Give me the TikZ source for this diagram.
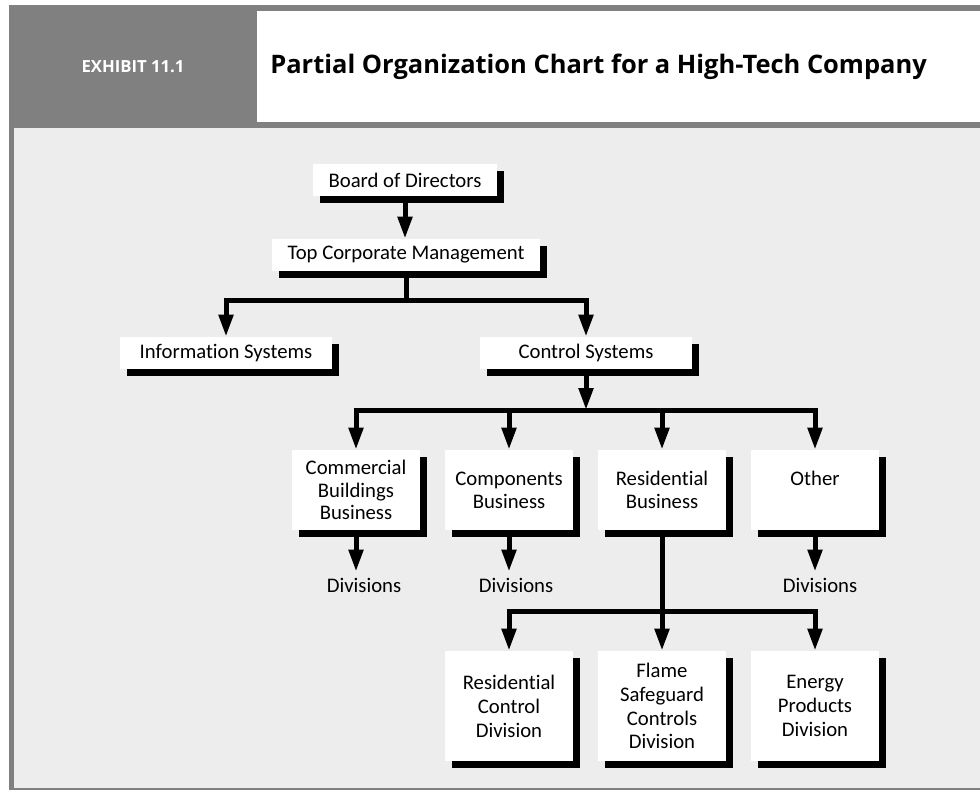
\documentclass[tikz,border=0pt]{standalone}
\usepackage{fontspec}
\setmainfont{Carlito}[Ligatures=NoCommon]
\newfontfamily\headfont{Open Sans}
\usetikzlibrary{arrows.meta,shadows,calc}
\definecolor{framegray}{RGB}{128,128,128}
\definecolor{bodygray}{RGB}{237,237,237}

\begin{document}
\begin{tikzpicture}[x=0.02cm, y=-0.02cm,
  every node/.style={font=\fontsize{11.8}{13}\selectfont},
  orgbox/.style={fill=white, inner sep=0pt, align=center,
    general shadow={fill=black, shadow xshift=0.14cm, shadow yshift=-0.14cm}},
  widebox/.style={orgbox, minimum height=0.64cm},
  bizbox/.style={orgbox, minimum width=2.56cm, minimum height=1.6cm, text width=2.56cm},
  divbox/.style={orgbox, minimum width=2.56cm, minimum height=2.2cm, text width=2.56cm,
    font=\fontsize{11.8}{13.6}\selectfont},
  link/.style={line width=0.1cm},
  arr/.style={link, -{Triangle[length=0.44cm,width=0.28cm]}}]
  \useasboundingbox (0,0) rectangle (980,790);
  % --- frame, header band and body ---
  \fill[white]     (0,0)    rectangle (980,790);
  \fill[framegray] (9,5)    rectangle (980,790);
  \fill[white]     (257,11) rectangle (980,122);
  \fill[bodygray]  (14,128) rectangle (980,788);
  \node[font=\headfont\bfseries\fontsize{9.5}{11}\selectfont, text=white] (exh) at (133,67) {EXHIBIT 11.1};
  \node[font=\headfont\bfseries\fontsize{14.5}{16}\selectfont, anchor=west, inner sep=0pt] (ttl) at (270,67)
    {Partial Organization Chart for a High-Tech Company};
  % --- top of the chart ---
  \node[widebox, minimum width=3.68cm] (bod)  at (405,180) {Board of Directors};
  \node[widebox, minimum width=5.36cm] (top)  at (406,255) {Top Corporate Management};
  \node[widebox, minimum width=4.24cm] (info) at (226,353) {Information Systems};
  \node[widebox, minimum width=4.24cm] (ctrl) at (586,353) {Control Systems};
  % --- business units ---
  \node[bizbox] (cbb)  at (356,490) {Commercial\\Buildings\\Business};
  \node[bizbox] (comp) at (509,490) {Components\\Business};
  \node[bizbox] (resb) at (662,490) {Residential\\Business};
  \node[bizbox] (oth)  at (815,490) {Other\\\mbox{}};
  % --- divisions ---
  \node (dv1) at (364,585) {Divisions};
  \node (dv2) at (516,585) {Divisions};
  \node (dv4) at (820,585) {Divisions};
  \node[divbox] (rcd) at (509,706) {Residential\\Control\\Division};
  \node[divbox] (fsc) at (662,706) {Flame\\Safeguard\\Controls\\Division};
  \node[divbox] (epd) at (815,706) {Energy\\Products\\Division};
  % --- branch points ---
  \coordinate (b1) at (top.south |- 0,301);
  \coordinate (b2) at (ctrl.south |- 0,410);
  \coordinate (b3) at (resb.south |- 0,611);
  % --- connectors ---
  \draw[arr] (bod.south) -- (bod.south |- top.north);
  \draw[link] (top.south) -- (b1);
  \draw[arr] (b1) -| (info.north);
  \draw[arr] (b1) -| (ctrl.north);
  \draw[arr] (ctrl.south) -- (b2);
  \foreach \n in {cbb,comp,resb,oth}{
    \draw[arr] (b2) -| (\n.north);
  }
  \draw[arr] (cbb.south)  -- (cbb.south |- dv1.north);
  \draw[arr] (comp.south) -- (comp.south |- dv2.north);
  \draw[arr] (oth.south)  -- (oth.south |- dv4.north);
  \draw[link] (resb.south) -- (b3);
  \foreach \n in {rcd,fsc,epd}{
    \draw[arr] (b3) -| (\n.north);
  }
\end{tikzpicture}
\end{document}
